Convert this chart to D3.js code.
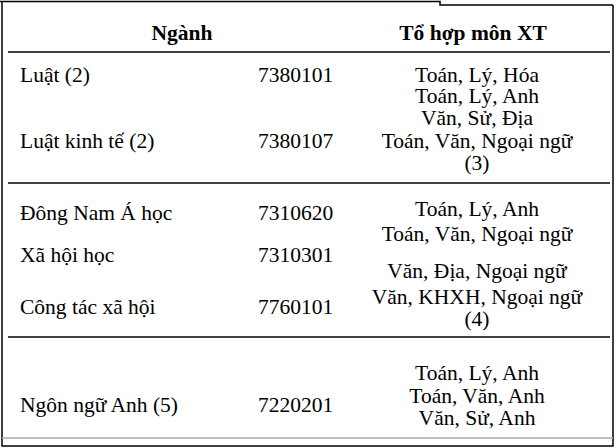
<!DOCTYPE html><html><head><meta charset="utf-8"><script src="https://cdn.jsdelivr.net/npm/d3@7"></script>
<style>body{margin:0;background:#fff} svg text{font-family:"Liberation Serif","Times New Roman",Tinos,serif;font-size:21.5px}</style></head><body><script>
const headers=["Ngành","Tổ hợp môn XT"];
const majors=["Luật (2)","Luật kinh tế (2)","Đông Nam Á học","Xã hội học","Công tác xã hội","Ngôn ngữ Anh (5)"];
const codes=["7380101","7380107","7310620","7310301","7760101","7220201"];
const majorY=[82,148,220,262,314,412];
const combos=["Toán, Lý, Hóa","Toán, Lý, Anh","Văn, Sử, Địa","Toán, Văn, Ngoại ngữ","(3)","Toán, Lý, Anh","Toán, Văn, Ngoại ngữ","Văn, Địa, Ngoại ngữ","Văn, KHXH, Ngoại ngữ","(4)","Toán, Lý, Anh","Toán, Văn, Anh","Văn, Sử, Anh"];
const comboY=[82,103,125,148,170,216,241,278,304,326,380,403,425];
const rules=[52,183,337];
const svg=d3.select("body").append("svg").attr("width",616).attr("height",448);
svg.append("path").attr("d","M0,1.5H440V5H613M2,1.5V446H613V5").attr("fill","none").attr("stroke","#000").attr("stroke-width",1.5);
svg.append("line").attr("x1",2).attr("x2",613).attr("y1",438).attr("y2",438).attr("stroke","#aaa").attr("stroke-width",1.5);
svg.selectAll(".r").data(rules).join("line").attr("x1",8).attr("x2",610).attr("y1",d=>d).attr("y2",d=>d).attr("stroke","#000").attr("stroke-width",1.3);
svg.selectAll(".h").data(headers).join("text").attr("x",(d,i)=>i?473:182).attr("y",40).attr("text-anchor","middle").attr("font-weight","bold").text(d=>d);
svg.selectAll(".m").data(majors).join("text").attr("x",20).attr("y",(d,i)=>majorY[i]).text(d=>d);
svg.selectAll(".c").data(codes).join("text").attr("x",258).attr("y",(d,i)=>majorY[i]).text(d=>d);
svg.selectAll(".k").data(combos).join("text").attr("x",477).attr("y",(d,i)=>comboY[i]).attr("text-anchor","middle").text(d=>d);
</script></body></html>
